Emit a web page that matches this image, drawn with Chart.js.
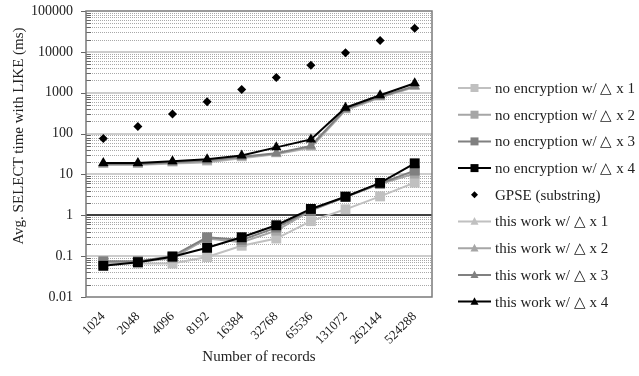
<!DOCTYPE html>
<html>
<head>
<meta charset="utf-8">
<script src="https://cdn.jsdelivr.net/npm/chart.js@4.4.0/dist/chart.umd.min.js"></script>
<style>
  html, body { margin: 0; padding: 0; background: #fff; }
  #wrap { width: 639px; height: 376px; }
</style>
</head>
<body>
<div id="wrap"><canvas id="myChart" width="639" height="376"></canvas></div>
<script>
// x categories (number of records)
const records = ['1024', '2048', '4096', '8192', '16384', '32768', '65536', '131072', '262144', '524288'];
const yTickLabels = ['0.01', '0.1', '1', '10', '100', '1000', '10000', '100000'];

// values (ms)
const noEnc1 = [0.068, 0.066, 0.066, 0.095, 0.18, 0.27, 0.72, 1.4, 2.9, 6.3];
const noEnc2 = [0.07, 0.072, 0.09, 0.27, 0.22, 0.42, 1.3, 2.8, 5.8, 10.5];
const noEnc3 = [0.075, 0.075, 0.1, 0.29, 0.25, 0.5, 1.35, 2.85, 6.0, 12.4];
const noEnc4 = [0.058, 0.071, 0.097, 0.16, 0.29, 0.57, 1.43, 2.85, 6.2, 18.7];
const gpse = [76, 150, 300, 600, 1200, 2360, 4700, 9500, 19000, 38000];
const thisWork1 = [17, 17, 18.5, 19.5, 25, 31, 45, 370, 760, 1380];
const thisWork2 = [17.5, 17.5, 19, 20.5, 26, 32, 47, 380, 780, 1400];
const thisWork3 = [18, 18, 20, 22, 27, 33, 50, 400, 800, 1450];
const thisWork4 = [19, 19, 21, 23.5, 29, 46, 72, 430, 870, 1700];

const SERIF = '"Liberation Serif", "Times New Roman", serif';
Chart.defaults.font.family = SERIF;
Chart.defaults.color = '#222';

const grays = ['#c0c0c0', '#a6a6a6', '#808080', '#000000'];

const lineSet = (label, data, color, style, order) => ({
  label: label,
  data: data,
  borderColor: color,
  backgroundColor: color,
  pointBackgroundColor: color,
  pointBorderWidth: 0,
  borderWidth: 2,
  pointStyle: style,
  pointRadius: style === 'rect' ? 7 : 6,
  pointHoverRadius: 7,
  fill: false,
  tension: 0,
  order: order
});

const datasets = [
  lineSet('no encryption w/ \u25B3 x 1', noEnc1, grays[0], 'rect', 8),
  lineSet('no encryption w/ \u25B3 x 2', noEnc2, grays[1], 'rect', 7),
  lineSet('no encryption w/ \u25B3 x 3', noEnc3, grays[2], 'rect', 6),
  lineSet('no encryption w/ \u25B3 x 4', noEnc4, grays[3], 'rect', 5),
  {
    label: 'GPSE (substring)',
    data: gpse,
    showLine: false,
    pointStyle: 'rectRot',
    pointRadius: 4.5,
    pointBorderWidth: 0,
    pointBackgroundColor: '#000',
    borderColor: '#000',
    backgroundColor: '#000',
    order: 0
  },
  lineSet('this work w/ \u25B3 x 1', thisWork1, grays[0], 'triangle', 4),
  lineSet('this work w/ \u25B3 x 2', thisWork2, grays[1], 'triangle', 3),
  lineSet('this work w/ \u25B3 x 3', thisWork3, grays[2], 'triangle', 2),
  lineSet('this work w/ \u25B3 x 4', thisWork4, grays[3], 'triangle', 1)
];

// excel-like grid: solid decades, dotted minor lines, axis crossing at 1
const gridPlugin = {
  id: 'excelGrid',
  beforeDatasetsDraw(chart) {
    const { ctx, chartArea: a, scales: { y } } = chart;
    ctx.save();
    ctx.lineWidth = 1;
    // minor
    ctx.strokeStyle = '#a8a8a8';
    ctx.setLineDash([1, 1]);
    for (let k = -2; k <= 4; k++) {
      for (let m = 2; m <= 9; m++) {
        const py = Math.round(y.getPixelForValue(m * Math.pow(10, k))) + 0.5;
        ctx.beginPath();
        ctx.moveTo(a.left, py);
        ctx.lineTo(a.right, py);
        ctx.stroke();
      }
    }
    ctx.setLineDash([]);
    // major
    for (let k = -1; k <= 4; k++) {
      const py = Math.round(y.getPixelForValue(Math.pow(10, k)));
      ctx.strokeStyle = k === 0 ? '#000' : '#bdbdbd';
      ctx.lineWidth = 1.5;
      ctx.beginPath();
      ctx.moveTo(a.left, py);
      ctx.lineTo(a.right, py);
      ctx.stroke();
    }
    // ticks on the left axis
    ctx.strokeStyle = '#666';
    ctx.lineWidth = 1;
    for (let k = -2; k <= 4; k++) {
      for (let m = 2; m <= 9; m++) {
        const py = Math.round(y.getPixelForValue(m * Math.pow(10, k))) + 0.5;
        ctx.beginPath();
        ctx.moveTo(a.left, py);
        ctx.lineTo(a.left + 5, py);
        ctx.stroke();
      }
    }
    for (let k = -2; k <= 5; k++) {
      const py = Math.round(y.getPixelForValue(Math.pow(10, k))) + 0.5;
      ctx.beginPath();
      ctx.moveTo(a.left - 5, py);
      ctx.lineTo(a.left, py);
      ctx.stroke();
    }
    // plot border
    ctx.strokeStyle = '#7a7a7a';
    ctx.lineWidth = 1.5;
    ctx.strokeRect(a.left, a.top, a.right - a.left, a.bottom - a.top);
    ctx.restore();
  }
};

function marker(ctx, style, x, y, r) {
  ctx.beginPath();
  if (style === 'rect') {
    ctx.rect(x - r, y - r, 2 * r, 2 * r);
  } else if (style === 'triangle') {
    ctx.moveTo(x, y - r * 1.1);
    ctx.lineTo(x + r, y + r * 0.8);
    ctx.lineTo(x - r, y + r * 0.8);
    ctx.closePath();
  } else {
    ctx.moveTo(x, y - r);
    ctx.lineTo(x + r, y);
    ctx.lineTo(x, y + r);
    ctx.lineTo(x - r, y);
    ctx.closePath();
  }
  ctx.fill();
}

// legend on the right + rotated y title
const sidePlugin = {
  id: 'sideLegend',
  afterDraw(chart) {
    const { ctx } = chart;
    ctx.save();
    ctx.font = '15px ' + SERIF;
    ctx.textBaseline = 'middle';
    chart.data.datasets.forEach((ds, i) => {
      const ly = 88 + i * 26.7;
      ctx.fillStyle = ds.borderColor;
      ctx.strokeStyle = ds.borderColor;
      if (ds.showLine !== false) {
        ctx.lineWidth = 2;
        ctx.beginPath();
        ctx.moveTo(458, ly);
        ctx.lineTo(491, ly);
        ctx.stroke();
      }
      marker(ctx, ds.pointStyle, 474.5, ly, ds.pointStyle === 'rectRot' ? 3.5 : 4);
      ctx.fillStyle = '#222';
      ctx.fillText(ds.label, 495, ly + 1);
    });
    ctx.translate(19, 136);
    ctx.rotate(-Math.PI / 2);
    ctx.textAlign = 'center';
    ctx.font = '15px ' + SERIF;
    ctx.fillStyle = '#222';
    ctx.fillText('Avg. SELECT time with LIKE (ms)', 0, 0);
    ctx.restore();
  }
};

new Chart(document.getElementById('myChart').getContext('2d'), {
  type: 'line',
  data: { labels: records, datasets: datasets },
  plugins: [gridPlugin, sidePlugin],
  options: {
    responsive: false,
    animation: false,
    devicePixelRatio: 1,
    layout: { padding: { top: 11, right: 207, left: 0, bottom: 0 } },
    plugins: { legend: { display: false }, tooltip: { enabled: false } },
    scales: {
      x: {
        offset: true,
        grid: { display: false, drawTicks: false },
        border: { display: false },
        ticks: { minRotation: 45, maxRotation: 45, autoSkip: false, padding: 12,
                 font: { size: 13 }, color: '#222' },
        title: { display: true, text: 'Number of records', font: { size: 15 },
                 color: '#222', padding: { top: 0, bottom: 10 } },
        afterFit(scale) { scale.height = 79; }
      },
      y: {
        type: 'logarithmic',
        min: 0.01,
        max: 100000,
        grid: { display: false, drawTicks: false },
        border: { display: false },
        ticks: {
          autoSkip: false,
          padding: 13,
          font: { size: 14 },
          color: '#222',
          callback(v) {
            const e = Math.round(Math.log10(v));
            if (Math.abs(v - Math.pow(10, e)) / Math.pow(10, e) < 1e-6) {
              return yTickLabels[e + 2] || '';
            }
            return '';
          }
        },
        afterFit(scale) {
          scale.width = 86;
          scale.paddingTop = 0;
          scale.paddingBottom = 0;
        }
      }
    }
  }
});
</script>
</body>
</html>
